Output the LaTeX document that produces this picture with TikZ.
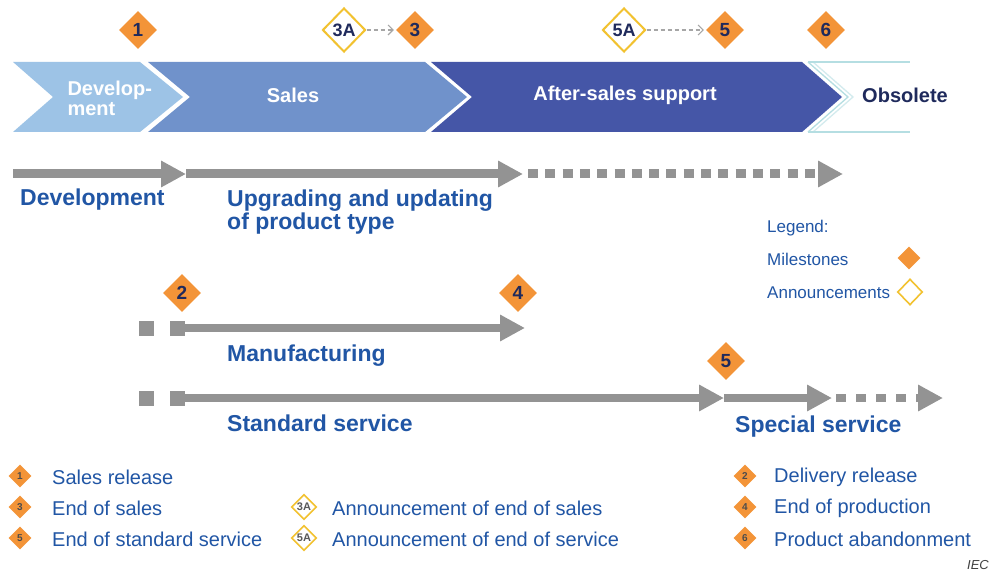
\documentclass[tikz,border=0pt]{standalone}
\usepackage{fontspec}
\setmainfont{Liberation Sans}
\usetikzlibrary{shapes.geometric,arrows.meta}
\definecolor{devblue}{HTML}{9DC3E6}
\definecolor{salesblue}{HTML}{7092CB}
\definecolor{afterblue}{HTML}{4556A7}
\definecolor{navy}{HTML}{1F2A5C}
\definecolor{orng}{HTML}{F39438}
\definecolor{gold}{HTML}{F2C230}
\definecolor{txtblue}{HTML}{2156A5}
\definecolor{arrgray}{HTML}{939393}
\definecolor{obsline}{HTML}{B5DEE2}
\begin{document}
\begin{tikzpicture}[x=1pt,y=-1pt,
  ms/.style={diamond, fill=orng, inner sep=0pt, minimum width=38pt, minimum height=38pt,
    font=\bfseries\fontsize{19}{19}\selectfont, text=navy},
  an/.style={diamond, draw=gold, line width=2pt, fill=white, inner sep=0pt, minimum width=43pt, minimum height=44pt,
    font=\bfseries\fontsize{18}{18}\selectfont, text=navy},
  sms/.style={diamond, fill=orng, inner sep=0pt, minimum width=23pt, minimum height=23pt,
    font=\bfseries\fontsize{10}{10}\selectfont, text=black!70},
  san/.style={diamond, draw=gold, line width=1.6pt, fill=white, inner sep=0pt, minimum width=25pt, minimum height=25pt,
    font=\bfseries\fontsize{11}{11}\selectfont, text=black!65},
  bigarrow/.style={draw=arrgray, line width=9pt, -{Triangle[length=25pt,width=25pt]}},
  sq/.style={rectangle, fill=arrgray, inner sep=0pt, minimum size=15pt},
  phase/.style={font=\bfseries\fontsize{20}{20}\selectfont, text=white},
  lbl/.style={font=\bfseries\fontsize{23}{23}\selectfont, text=txtblue, align=left, inner sep=0pt},
  leg/.style={font=\fontsize{17}{17}\selectfont, text=txtblue, inner sep=0pt},
  keytxt/.style={font=\fontsize{20}{20}\selectfont, text=txtblue, inner sep=0pt},
  annarrow/.style={draw=black!35, dash pattern=on 4pt off 3pt, line width=1.1pt, -{Straight Barb[length=5pt,width=10pt]}}
]
\useasboundingbox (0,0) rectangle (992,572);
\fill[white] (0,0) rectangle (992,572);

% phase chevrons
\fill[devblue] (13,62) -- (140,62) -- (183,97) -- (140,132) -- (13,132) -- (53,97) -- cycle;
\fill[salesblue] (148,62) -- (425,62) -- (467,97) -- (425,132) -- (148,132) -- (190,97) -- cycle;
\fill[afterblue] (431,62) -- (802,62) -- (842,97) -- (802,132) -- (431,132) -- (472,97) -- cycle;
\draw[obsline, line width=1.3pt] (808,62) -- (848,97) -- (808,132);
\draw[obsline!60, line width=1.3pt] (813,62) -- (853,97) -- (813,132);
\draw[obsline, line width=1.3pt] (808,62) -- (910,62);
\draw[obsline, line width=1.3pt] (808,132) -- (910,132);

\node[phase, anchor=west, align=left] (pdev) at (64,98) {Develop-\\ment};
\node[phase] (psales) at (293,95) {Sales};
\node[phase] (pafter) at (625,95) {After-sales support};
\node[phase, text=navy] (pobs) at (905,95) {Obsolete};

% top milestones
\node[ms] (m1) at (138,30) {1};
\node[an] (m3a) at (344,30) {3A};
\node[ms] (m3) at (415,30) {3};
\node[an] (m5a) at (624,30) {5A};
\node[ms] (m5) at (725,30) {5};
\node[ms] (m6) at (826,30) {6};
\draw[annarrow] (m3a.east) -- ([xshift=-2pt]m3.west);
\draw[annarrow] (m5a.east) -- ([xshift=-2pt]m5.west);

% development row
\coordinate (a0) at (13,174);
\coordinate (a1) at (186,174);
\coordinate (a2) at (523,174);
\coordinate (a2b) at (528,174);
\coordinate (a3) at (843,174);
\draw[bigarrow] (a0) -- (a1);
\draw[bigarrow] (a1) -- (a2);
\draw[bigarrow, dash pattern=on 10pt off 7.3pt] (a2b) -- (a3);
\node[lbl, anchor=west] (ldev) at (20,200) {Development};
\node[lbl, anchor=west] (lupg) at (227,212) {Upgrading and updating\\of product type};

% legend
\node[leg, anchor=west] (legt) at (767,228) {Legend:};
\node[leg, anchor=west] (legm) at (767,259) {Milestones};
\node[leg, anchor=west] (lega) at (767,293) {Announcements};
\node[diamond, fill=orng, inner sep=0pt, minimum width=23pt, minimum height=23pt] (legmd) at (909,258) {};
\node[diamond, draw=gold, line width=1.6pt, inner sep=0pt, minimum width=25pt, minimum height=26pt] (legad) at (910,292) {};

% manufacturing row
\node[ms] (m2) at (182,293) {2};
\node[ms] (m4) at (518,293) {4};
\node[sq] (q1) at (146,328) {};
\node[sq] (q2) at (177,328) {};
\coordinate (mend) at (525,328);
\draw[bigarrow, line width=8.5pt] (q2.east) -- (mend);
\node[lbl, anchor=west] (lman) at (227,356) {Manufacturing};

% service row
\node[ms] (m5b) at (726,361) {5};
\node[sq] (r1) at (146,398) {};
\node[sq] (r2) at (177,398) {};
\coordinate (s2) at (724,398);
\coordinate (s3) at (832,398);
\coordinate (s3b) at (836,398);
\coordinate (s4) at (943,398);
\draw[bigarrow, line width=8.5pt] (r2.east) -- (s2);
\draw[bigarrow, line width=8.5pt] (s2) -- (s3);
\draw[bigarrow, line width=8.5pt, dash pattern=on 10pt off 10pt] (s3b) -- (s4);
\node[lbl, anchor=west] (lstd) at (227,423) {Standard service};
\node[lbl, anchor=west] (lspec) at (735,427) {Special service};

% key
\node[sms] (k1) at (20,476) {1};
\node[keytxt, anchor=west] (t1) at (52,477) {Sales release};
\node[sms] (k3) at (20,507) {3};
\node[keytxt, anchor=west] (t3) at (52,508) {End of sales};
\node[sms] (k5) at (20,538) {5};
\node[keytxt, anchor=west] (t5) at (52,539) {End of standard service};
\node[san] (k3a) at (304,507) {3A};
\node[keytxt, anchor=west] (t3a) at (332,508) {Announcement of end of sales};
\node[san] (k5a) at (304,538) {5A};
\node[keytxt, anchor=west] (t5a) at (332,539) {Announcement of end of service};
\node[sms] (k2) at (745,476) {2};
\node[keytxt, anchor=west] (t2) at (774,477) {Delivery release};
\node[sms] (k4) at (745,507) {4};
\node[keytxt, anchor=west] (t4) at (774,508) {End of production};
\node[sms] (k6) at (745,538) {6};
\node[keytxt, anchor=west] (t6) at (774,539) {Product abandonment};
\node[font=\itshape\fontsize{13}{13}\selectfont, text=black!75, anchor=east, inner sep=0pt] (iec) at (989,565) {IEC};
\end{tikzpicture}
\end{document}
